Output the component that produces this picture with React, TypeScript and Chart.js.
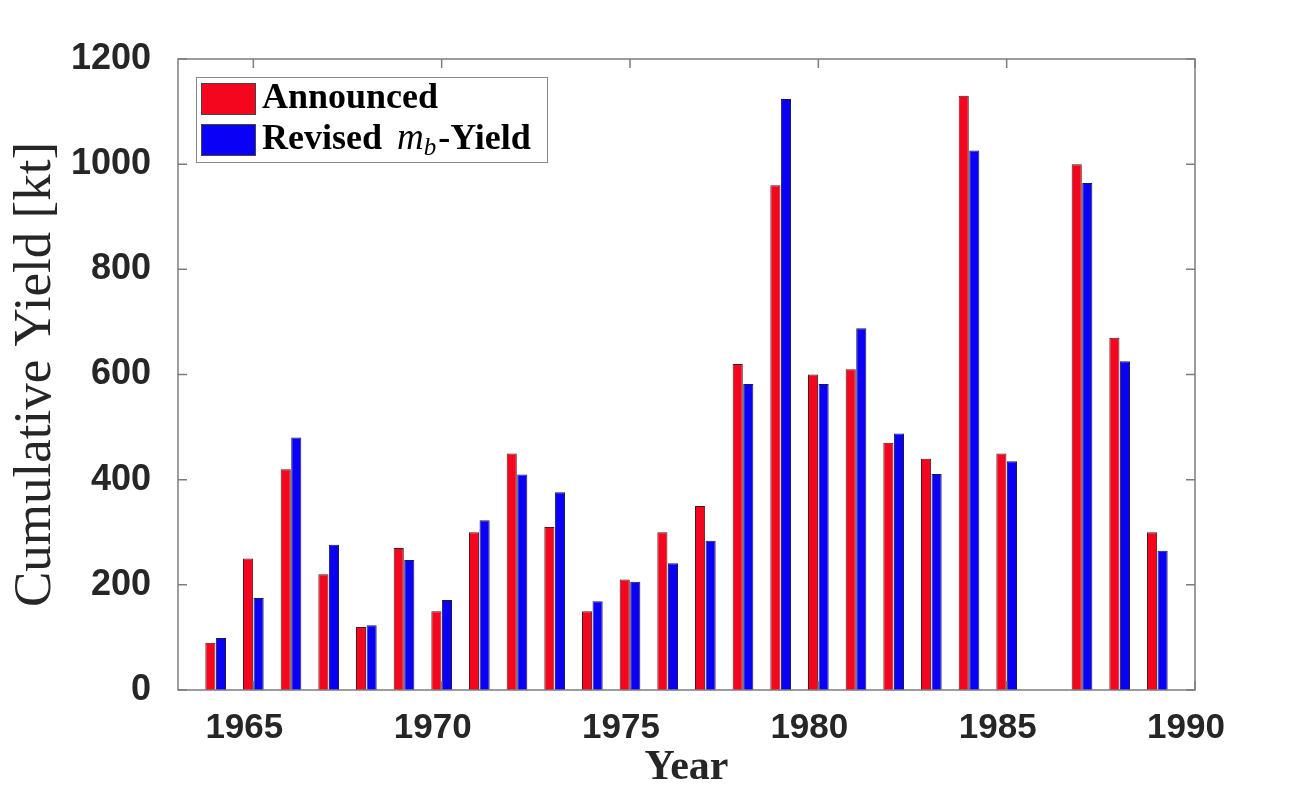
import React, { useEffect, useRef } from "react";
import { Chart, registerables } from "chart.js";

Chart.register(...registerables);

// ---- data ----
const years = [1964, 1965, 1966, 1967, 1968, 1969, 1970, 1971, 1972, 1973, 1974, 1975, 1976, 1977, 1978, 1979, 1980, 1981, 1982, 1983, 1984, 1985, 1986, 1987, 1988, 1989];
const announced = [90, 250, 420, 220, 120, 270, 150, 300, 450, 310, 150, 210, 300, 350, 620, 960, 600, 610, 470, 440, 1130, 450, 0, 1000, 670, 300];
const revised = [99, 175, 480, 276, 123, 247, 171, 323, 410, 376, 169, 206, 241, 284, 582, 1124, 582, 688, 488, 411, 1026, 435, 0, 964, 625, 265];
const xTickValues = [1965, 1970, 1975, 1980, 1985, 1990];
const yTickValues = [0, 200, 400, 600, 800, 1000, 1200];
const xRange = [1963, 1990];
const yRange = [0, 1200];
const seriesLabels = ["Announced", "Revised mb-Yield"];
const seriesColors = ["#f5061f", "#0a00f5"];
const xTitle = "Year";
const yTitle = "Cumulative Yield [kt]";
// legend rich-text parts: b = bold, i = math italic, sub = italic subscript
const legendParts: { t: string; s: string }[][] = [
  [{ t: "Announced", s: "b" }],
  [
    { t: "Revised", s: "b" },
    { t: "m", s: "i" },
    { t: "b", s: "sub" },
    { t: "-Yield", s: "b" },
  ],
];

const AXIS_COLOR = "#7d7d7d";
const TICK_COLOR = "#262626";

const framePlugin = {
  id: "frame",
  afterDatasetsDraw(chart: any) {
    const { ctx, chartArea } = chart;
    const { left, right, top, bottom } = chartArea;
    ctx.save();
    ctx.strokeStyle = AXIS_COLOR;
    ctx.lineWidth = 1.5;
    ctx.strokeRect(left, top, right - left, bottom - top);
    const len = 9;
    const xs = chart.scales.x;
    const ys = chart.scales.y;
    ctx.beginPath();
    xs.ticks.forEach((t: any) => {
      const px = xs.getPixelForValue(t.value);
      ctx.moveTo(px, bottom);
      ctx.lineTo(px, bottom - len);
      ctx.moveTo(px, top);
      ctx.lineTo(px, top + len);
    });
    ys.ticks.forEach((t: any) => {
      const py = ys.getPixelForValue(t.value);
      ctx.moveTo(left, py);
      ctx.lineTo(left + len, py);
      ctx.moveTo(right, py);
      ctx.lineTo(right - len, py);
    });
    ctx.stroke();
    ctx.restore();
  },
  afterDraw(chart: any) {
    const { ctx, chartArea } = chart;
    const bx = chartArea.left + 18;
    const by = chartArea.top + 18;
    const bw = 351;
    const bh = 85;
    ctx.save();
    ctx.fillStyle = "#ffffff";
    ctx.fillRect(bx, by, bw, bh);
    ctx.strokeStyle = "#8a8a8a";
    ctx.lineWidth = 1;
    ctx.strokeRect(bx + 0.5, by + 0.5, bw, bh);
    const rows = chart.data.datasets;
    rows.forEach((ds: any, i: number) => {
      const sy = by + 6 + i * 41;
      ctx.fillStyle = ds.backgroundColor;
      ctx.fillRect(bx + 5, sy, 55, 32);
      ctx.strokeStyle = "#444";
      ctx.lineWidth = 1;
      ctx.strokeRect(bx + 5.5, sy + 0.5, 54, 31);
      let x = bx + 66;
      const base = sy + 25;
      ctx.fillStyle = "#000";
      ctx.textBaseline = "alphabetic";
      ctx.textAlign = "left";
      const parts = legendParts[i];
      parts.forEach((p, k) => {
        if (p.s === "b") {
          ctx.font = 'bold 36px "Liberation Serif"';
          ctx.fillText(p.t, x, base);
          x += ctx.measureText(p.t).width;
          if (k < parts.length - 1 && parts[k + 1].s === "i") x += 15;
        } else if (p.s === "i") {
          ctx.font = 'italic 37px "Liberation Serif"';
          ctx.fillText(p.t, x, base);
          x += ctx.measureText(p.t).width;
        } else {
          ctx.font = 'italic 25px "Liberation Serif"';
          ctx.fillText(p.t, x, base + 6);
          x += ctx.measureText(p.t).width + 2;
        }
      });
    });
    ctx.restore();
  },
};

export default function App() {
  const ref = useRef<HTMLCanvasElement>(null);
  useEffect(() => {
    if (!ref.current) return;
    const chart = new Chart(ref.current, {
      type: "bar",
      data: {
        datasets: [
          {
            label: seriesLabels[0],
            data: years.map((x, i) => ({ x, y: announced[i] })),
            backgroundColor: seriesColors[0],
            borderColor: "#4a1a1a",
            borderWidth: 1,
          },
          {
            label: seriesLabels[1],
            data: years.map((x, i) => ({ x, y: revised[i] })),
            backgroundColor: seriesColors[1],
            borderColor: "#1a1a4a",
            borderWidth: 1,
          },
        ],
      } as any,
      options: {
        responsive: false,
        animation: false,
        devicePixelRatio: 1,
        layout: { padding: { top: 59, right: 118, left: 0, bottom: 0 } },
        datasets: { bar: { categoryPercentage: 0.56, barPercentage: 0.96 } },
        plugins: { legend: { display: false }, tooltip: { enabled: false } },
        scales: {
          x: {
            type: "linear",
            min: xRange[0],
            max: xRange[1],
            offset: false,
            grid: { display: false, drawTicks: false, offset: false },
            border: { display: false },
            afterBuildTicks: (s: any) => {
              s.ticks = xTickValues.map((v) => ({ value: v }));
            },
            afterFit: (s: any) => {
              s.height = 100;
            },
            ticks: {
              autoSkip: false,
              maxRotation: 0,
              padding: 17,
              labelOffset: -9,
              color: TICK_COLOR,
              font: { family: '"Liberation Sans"', size: 35, weight: "bold" },
              callback: (v: any) => String(v),
            },
            title: {
              display: true,
              text: xTitle,
              color: "#262626",
              font: { family: '"Liberation Serif"', size: 42, weight: "bold", lineHeight: 1 },
              padding: { top: 0, bottom: 1 },
            },
          },
          y: {
            type: "linear",
            min: yRange[0],
            max: yRange[1],
            grid: { display: false, drawTicks: false },
            border: { display: false },
            afterBuildTicks: (s: any) => {
              s.ticks = yTickValues.map((v) => ({ value: v }));
            },
            afterFit: (s: any) => {
              s.width = 178;
            },
            ticks: {
              padding: 27,
              color: TICK_COLOR,
              font: { family: '"Liberation Sans"', size: 36, weight: "bold" },
              callback: (v: any) => String(v),
            },
            title: {
              display: true,
              text: yTitle,
              color: "#262626",
              font: { family: '"Liberation Serif"', size: 53, weight: "normal", lineHeight: 1 },
              padding: { top: 10, bottom: 0 },
            },
          },
        },
      } as any,
      plugins: [framePlugin],
    });
    return () => chart.destroy();
  }, []);
  return (
    <div style={{ position: "fixed", left: 0, top: 0, width: 1313, height: 790, background: "#ffffff" }}>
      <canvas ref={ref} width={1313} height={790} style={{ display: "block", width: 1313, height: 790 }} />
    </div>
  );
}
